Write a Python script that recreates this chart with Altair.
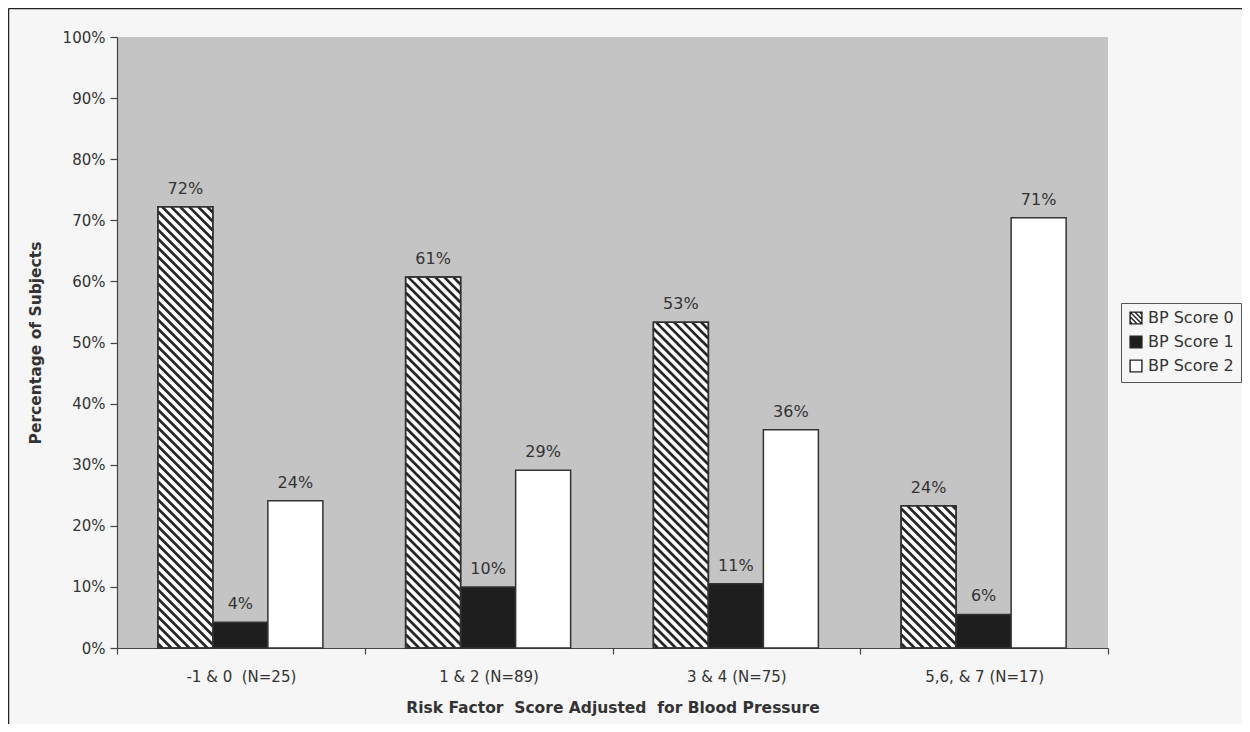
import json
import altair as alt
import pandas as pd

# ---------------- data ----------------
categories = ["-1 & 0\u00a0 (N=25)", "1 & 2 (N=89)", "3 & 4 (N=75)", "5,6, & 7 (N=17)"]
series = ["BP Score 0", "BP Score 1", "BP Score 2"]
score0 = [72.2, 60.7, 53.3, 23.3]
score1 = [4.2, 10.0, 10.5, 5.5]
score2 = [24.1, 29.1, 35.7, 70.4]
text0 = ["72%", "61%", "53%", "24%"]
text1 = ["4%", "10%", "11%", "6%"]
text2 = ["24%", "29%", "36%", "71%"]
y_ticks = list(range(0, 101, 10))

# ---------------- layout / style ----------------
W, H = 991, 611
SX = W / len(categories)   # px per category unit
SY = H / 100.0             # px per percent
GROUP_OFFSET = 0.165
BAR_W = 0.222
HATCH_PERIOD = 9.0
FONT = "DejaVu Sans"
TXT = "#333333"
DARK = "#1e1e1e"

rows = []
for si, (vals, texts) in enumerate([(score0, text0), (score1, text1), (score2, text2)]):
    for gi, (v, t) in enumerate(zip(vals, texts)):
        x0 = gi + GROUP_OFFSET + si * BAR_W
        rows.append(dict(cat=categories[gi], series=series[si], si=si, v=v, txt=t,
                         x0=x0, x1=x0 + BAR_W, xm=x0 + BAR_W / 2, vm=v / 2, zero=0))
df = pd.DataFrame(rows)

xs = alt.Scale(domain=[0, len(categories)], nice=False, zero=False)
ys = alt.Scale(domain=[0, 100], nice=False)

x_vals = [i * 0.5 for i in range(2 * len(categories) + 1)]
cats_js = json.dumps(categories, ensure_ascii=False)
xaxis = alt.Axis(
    values=x_vals,
    labelExpr=f"datum.value % 1 === 0 ? '' : {cats_js}[floor(datum.value)]",
    tickOpacity={"condition": {"test": "datum.value % 1 === 0", "value": 1}, "value": 0},
    tickSize=6, tickColor="#444", domainColor="#444", tickWidth=1.2, domainWidth=1.2,
    labelFont=FONT, labelFontSize=15, labelColor=TXT, labelPadding=15,
    labelOverlap=False, labelFlush=False, grid=False,
    titleFont=FONT, titleFontSize=15.5, titleFontWeight="bold", titleColor=TXT, titlePadding=16,
)
yaxis = alt.Axis(
    values=y_ticks, labelExpr="datum.value + '%'",
    tickSize=7, tickColor="#444", domainColor="#444", tickWidth=1.2, domainWidth=1.2,
    labelFont=FONT, labelFontSize=15, labelColor=TXT, labelPadding=5,
    grid=False,
    titleFont=FONT, titleFontSize=15.5, titleFontWeight="bold", titleColor=TXT, titlePadding=19,
)
XT = "Risk Factor\u00a0 Score Adjusted\u00a0 for Blood Pressure"
YT = "Percentage of Subjects"

HATCH = ("M-1,-1H1V1H-1Z M-1,-1L1,1 M-1,-0.2L0.2,1 M-0.2,-1L1,0.2 "
         "M-1,0.6L-0.6,1 M0.6,-1L1,-0.6")

legend = alt.Legend(
    title=None, orient="none", legendX=1004, legendY=266,
    labelFont=FONT, labelFontSize=16, labelColor=TXT, labelOffset=4,
    symbolSize=140, symbolStrokeWidth=1.4, symbolOpacity=1,
    rowPadding=6, padding=7, strokeColor="#555", fillColor="#f6f6f6",
)

# legend carrier points (hidden behind bars)
pts = alt.Chart(df).mark_point(filled=False, opacity=1, size=8, strokeWidth=0.5).encode(
    x=alt.X("xm:Q", scale=xs, axis=xaxis, title=XT),
    y=alt.Y("vm:Q", scale=ys, axis=yaxis, title=YT),
    fill=alt.Fill("series:N", scale=alt.Scale(domain=series, range=["white", DARK, "white"]), legend=legend),
    shape=alt.Shape("series:N", scale=alt.Scale(domain=series, range=[HATCH, "square", "square"]), legend=legend),
    stroke=alt.Stroke("series:N", scale=alt.Scale(domain=series, range=["#222", "#222", "#222"]), legend=legend),
)

bars = alt.Chart(df).transform_calculate(
    fc=f"datum.si == 1 ? '{DARK}' : 'white'"
).mark_rect(stroke="#333", strokeWidth=1.5).encode(
    x=alt.X("x0:Q", scale=xs, axis=xaxis, title=XT),
    x2="x1:Q",
    y=alt.Y("v:Q", scale=ys, axis=yaxis, title=YT),
    y2="zero:Q",
    fill=alt.Fill("fc:N", scale=None),
)

hatch = alt.Chart(df).transform_filter("datum.si == 0").transform_calculate(
    Wp=f"(datum.x1 - datum.x0) * {SX}",
    Hp=f"datum.v * {SY}",
    ks="sequence(0, 80)",
).transform_flatten(["ks"]).transform_calculate(
    d=f"datum.ks * {HATCH_PERIOD} + {HATCH_PERIOD / 2}"
).transform_filter("datum.d < datum.Wp + datum.Hp").transform_calculate(
    ua="max(0, datum.d - datum.Hp)",
    ub="min(datum.Wp, datum.d)",
).transform_calculate(
    xa=f"datum.x0 + datum.ua / {SX}",
    ya=f"(datum.d - datum.ua) / {SY}",
    xb=f"datum.x0 + datum.ub / {SX}",
    yb=f"(datum.d - datum.ub) / {SY}",
).mark_rule(color="#262626", strokeWidth=2.7, strokeCap="butt").encode(
    x=alt.X("xa:Q", scale=xs, axis=xaxis, title=XT),
    x2="xb:Q",
    y=alt.Y("ya:Q", scale=ys, axis=yaxis, title=YT),
    y2="yb:Q",
)

outline = alt.Chart(df).transform_filter("datum.si == 0").mark_rect(
    fill="transparent", stroke="#333", strokeWidth=1.5
).encode(
    x=alt.X("x0:Q", scale=xs, axis=xaxis, title=XT),
    x2="x1:Q",
    y=alt.Y("v:Q", scale=ys, axis=yaxis, title=YT),
    y2="zero:Q",
)

labels = alt.Chart(df).mark_text(
    baseline="bottom", dy=-10, font=FONT, fontSize=16, color=TXT
).encode(
    x=alt.X("xm:Q", scale=xs, axis=xaxis, title=XT),
    y=alt.Y("v:Q", scale=ys, axis=yaxis, title=YT),
    text="txt:N",
)

frame_data = pd.DataFrame({"k": [0]})
frame_left = alt.Chart(frame_data).mark_rule(color="#222", strokeWidth=1.5).encode(
    x=alt.value(-108.5), y=alt.value(-28.5), y2=alt.value(H + 80)
)
frame_top = alt.Chart(frame_data).mark_rule(color="#222", strokeWidth=1.5).encode(
    x=alt.value(-108.5), x2=alt.value(W + 140), y=alt.value(-28.5)
)

chart = alt.layer(pts, bars, hatch, outline, labels, frame_left, frame_top).properties(
    width=W, height=H,
    autosize=alt.AutoSizeParams(type="none"),
    padding={"left": 109, "top": 29, "right": 134, "bottom": 76},
).configure(background="#f6f6f6").configure_view(fill="#c4c4c4", strokeWidth=0)

chart.save("out.html", embed_options={"renderer": "svg", "actions": False})
